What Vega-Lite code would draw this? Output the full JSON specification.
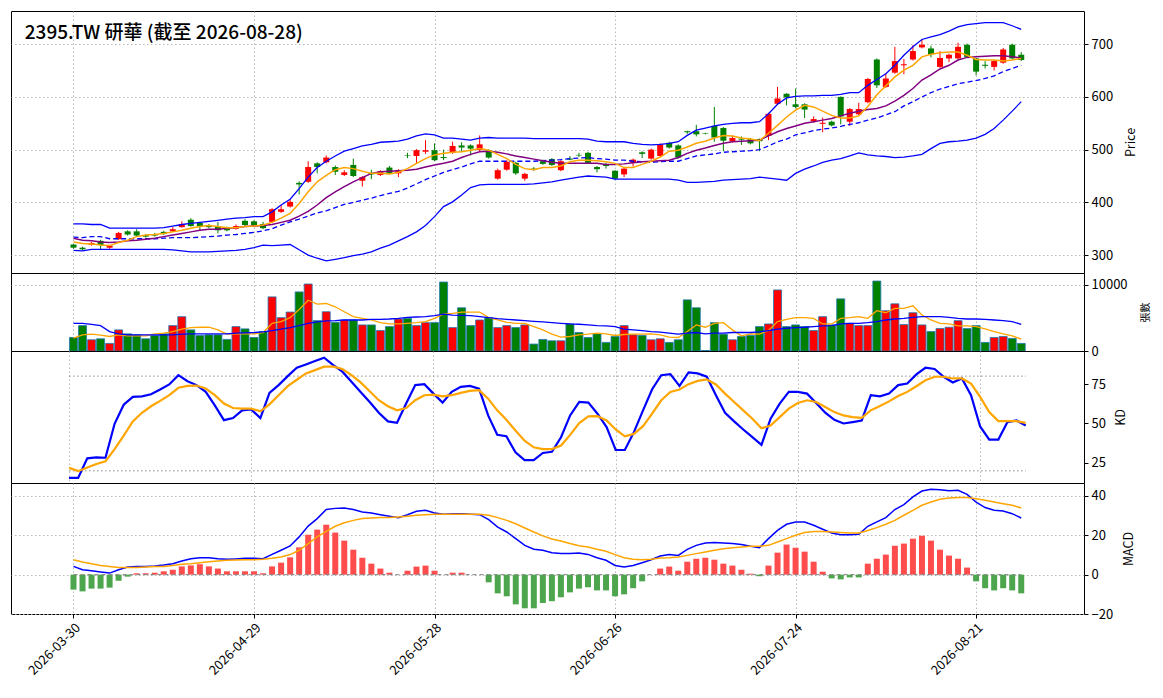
{
"$schema": "https://vega.github.io/schema/vega-lite/v6.json",
"padding": {"left": 10, "top": 10, "right": 5, "bottom": 5},
"bounds": "flush",
"config": {
 "font": "Noto Sans CJK TC",
 "view": {"stroke": "black", "strokeWidth": 1},
 "axis": {"labelFontSize": 13, "titleFontSize": 12.5, "titleFontWeight": "normal", "labelColor": "black", "titleColor": "black", "tickColor": "black", "tickSize": 4, "domain": false, "gridColor": "#b0b0b0", "gridDash": [1.5, 2.5], "gridWidth": 0.9, "labelPadding": 3}
},
"spacing": 0,
"data": {"values": [
{"i":0,"o":320,"h":321,"l":312,"c":314,"m5":325,"m10":332,"m20":334,"bu":359,"bl":309,"v":2050,"v5":1950,"v20":4200,"k":15.5,"d":21.9,"dif":4.2,"dea":7.6,"hm":-7.6},
{"i":1,"o":314,"h":316,"l":309,"c":311,"m5":322,"m10":328,"m20":333,"bu":359,"bl":308,"v":3850,"v5":2450,"v20":4200,"k":15.5,"d":19.8,"dif":2.5,"dea":6.4,"hm":-8.5},
{"i":2,"o":320,"h":325,"l":318,"c":323,"m5":321,"m10":327,"m20":335,"bu":358,"bl":311,"v":1700,"v5":2550,"v20":4050,"k":27.9,"d":22.1,"dif":2,"dea":5.6,"hm":-7.1},
{"i":3,"o":327,"h":329,"l":310,"c":319,"m5":319,"m10":325,"m20":335,"bu":358,"bl":311,"v":1850,"v5":2400,"v20":3850,"k":28.5,"d":24.3,"dif":1.4,"dea":4.7,"hm":-7.1},
{"i":4,"o":314,"h":319,"l":312,"c":318,"m5":318,"m10":324,"m20":331,"bu":351,"bl":311,"v":1150,"v5":2200,"v20":2950,"k":28.3,"d":26,"dif":0.8,"dea":4.1,"hm":-6.6},
{"i":5,"o":330,"h":344,"l":329,"c":342,"m5":324,"m10":325,"m20":331,"bu":351,"bl":311,"v":3200,"v5":2450,"v20":2600,"k":49.8,"d":33.8,"dif":2.5,"dea":3.6,"hm":-3.1},
{"i":6,"o":345,"h":347,"l":337,"c":339,"m5":328,"m10":327,"m20":331,"bu":351,"bl":311,"v":2600,"v5":2300,"v20":2450,"k":61.9,"d":42.3,"dif":3.9,"dea":3.6,"hm":-1},
{"i":7,"o":345,"h":349,"l":335,"c":337,"m5":335,"m10":328,"m20":331,"bu":351,"bl":311,"v":2450,"v5":2300,"v20":2450,"k":66.8,"d":51.3,"dif":4.2,"dea":3.7,"hm":0.7},
{"i":8,"o":338,"h":340,"l":333,"c":335,"m5":338,"m10":330,"m20":331,"bu":351,"bl":311,"v":1850,"v5":2300,"v20":2450,"k":67.2,"d":56.8,"dif":4.2,"dea":3.9,"hm":0.7},
{"i":9,"o":340,"h":342,"l":335,"c":337,"m5":339,"m10":332,"m20":331,"bu":351,"bl":311,"v":2350,"v5":2600,"v20":2450,"k":68.5,"d":60.9,"dif":4.4,"dea":4.1,"hm":1},
{"i":10,"o":344,"h":346,"l":338,"c":340,"m5":341,"m10":335,"m20":332,"bu":352,"bl":311,"v":2600,"v5":2700,"v20":2450,"k":71.5,"d":64.3,"dif":4.9,"dea":4.2,"hm":1.7},
{"i":11,"o":345,"h":353,"l":344,"c":349,"m5":344,"m10":338,"m20":333,"bu":355,"bl":310,"v":3850,"v5":2950,"v20":2450,"k":74.7,"d":67.9,"dif":5.6,"dea":4.7,"hm":2.5},
{"i":12,"o":353,"h":364,"l":352,"c":359,"m5":347,"m10":341,"m20":333,"bu":358,"bl":308,"v":5200,"v5":3300,"v20":2550,"k":80.6,"d":72.6,"dif":6.9,"dea":5.3,"hm":4.2},
{"i":13,"o":367,"h":370,"l":354,"c":355,"m5":351,"m10":344,"m20":333,"bu":360,"bl":306,"v":3200,"v5":3550,"v20":2600,"k":76.8,"d":73.8,"dif":8.1,"dea":5.6,"hm":4.7},
{"i":14,"o":361,"h":363,"l":347,"c":355,"m5":354,"m10":347,"m20":334,"bu":362,"bl":306,"v":2350,"v5":3600,"v20":2600,"k":74.3,"d":74,"dif":8.6,"dea":6.1,"hm":5.3},
{"i":15,"o":357,"h":359,"l":351,"c":353,"m5":356,"m10":349,"m20":335,"bu":364,"bl":306,"v":2450,"v5":3600,"v20":2600,"k":70,"d":72.1,"dif":8.6,"dea":6.6,"hm":4.2},
{"i":16,"o":354,"h":363,"l":341,"c":347,"m5":354,"m10":349,"m20":336,"bu":366,"bl":307,"v":2450,"v5":3200,"v20":2600,"k":61.5,"d":67.9,"dif":8.1,"dea":6.9,"hm":3.1},
{"i":17,"o":352,"h":354,"l":345,"c":347,"m5":352,"m10":351,"m20":338,"bu":368,"bl":308,"v":1750,"v5":2550,"v20":2600,"k":52.1,"d":62.6,"dif":7.8,"dea":7.3,"hm":1.7},
{"i":18,"o":350,"h":358,"l":348,"c":355,"m5":352,"m10":352,"m20":339,"bu":370,"bl":309,"v":3700,"v5":2600,"v20":2700,"k":53.4,"d":59.8,"dif":8,"dea":7.5,"hm":1.7},
{"i":19,"o":365,"h":368,"l":355,"c":357,"m5":354,"m10":354,"m20":341,"bu":371,"bl":311,"v":3350,"v5":2600,"v20":2750,"k":58.3,"d":59.4,"dif":8.3,"dea":7.6,"hm":1.7},
{"i":20,"o":364,"h":366,"l":355,"c":357,"m5":355,"m10":355,"m20":343,"bu":373,"bl":314,"v":2050,"v5":2600,"v20":2800,"k":58.9,"d":59.4,"dif":8.3,"dea":7.6,"hm":1.7},
{"i":21,"o":359,"h":363,"l":349,"c":351,"m5":357,"m10":356,"m20":346,"bu":373,"bl":319,"v":2950,"v5":2800,"v20":2900,"k":53.4,"d":57.7,"dif":8.1,"dea":7.8,"hm":0.7},
{"i":22,"o":363,"h":389,"l":361,"c":387,"m5":362,"m10":358,"m20":350,"bu":382,"bl":318,"v":8200,"v5":4200,"v20":3100,"k":69.4,"d":62.1,"dif":10.3,"dea":8.3,"hm":4.2},
{"i":23,"o":382,"h":395,"l":380,"c":387,"m5":370,"m10":362,"m20":357,"bu":395,"bl":319,"v":5050,"v5":4450,"v20":3300,"k":74.3,"d":67.9,"dif":12.4,"dea":9,"hm":6.1},
{"i":24,"o":392,"h":406,"l":390,"c":401,"m5":379,"m10":366,"m20":363,"bu":406,"bl":320,"v":5900,"v5":5050,"v20":3550,"k":80,"d":73.6,"dif":14.6,"dea":10.2,"hm":8.8},
{"i":25,"o":437,"h":440,"l":415,"c":434,"m5":398,"m10":374,"m20":368,"bu":426,"bl":310,"v":8950,"v5":6300,"v20":3850,"k":85.3,"d":77.7,"dif":19.2,"dea":12.4,"hm":13.9},
{"i":26,"o":439,"h":478,"l":437,"c":467,"m5":420,"m10":383,"m20":374,"bu":448,"bl":300,"v":10150,"v5":7700,"v20":4200,"k":87.4,"d":81.7,"dif":24.7,"dea":15.8,"hm":20.3},
{"i":27,"o":474,"h":476,"l":455,"c":467,"m5":439,"m10":395,"m20":380,"bu":466,"bl":294,"v":4600,"v5":7100,"v20":4400,"k":89.6,"d":83.8,"dif":28.5,"dea":19.2,"hm":22.9},
{"i":28,"o":476,"h":489,"l":474,"c":485,"m5":451,"m10":409,"m20":384,"bu":478,"bl":289,"v":5950,"v5":7200,"v20":4550,"k":91.7,"d":86,"dif":33.1,"dea":22,"hm":25.4},
{"i":29,"o":467,"h":470,"l":452,"c":458,"m5":462,"m10":420,"m20":390,"bu":488,"bl":292,"v":4350,"v5":6700,"v20":4600,"k":87,"d":86,"dif":33.7,"dea":24.6,"hm":21.4},
{"i":30,"o":452,"h":461,"l":450,"c":457,"m5":466,"m10":430,"m20":396,"bu":497,"bl":295,"v":4700,"v5":5950,"v20":4700,"k":82.8,"d":84.5,"dif":33.9,"dea":26.4,"hm":17.3},
{"i":31,"o":471,"h":483,"l":448,"c":450,"m5":464,"m10":439,"m20":400,"bu":502,"bl":299,"v":4700,"v5":5200,"v20":4700,"k":76.4,"d":80.6,"dif":33.1,"dea":27.6,"hm":12.7},
{"i":32,"o":441,"h":450,"l":430,"c":448,"m5":459,"m10":447,"m20":404,"bu":507,"bl":302,"v":3950,"v5":4950,"v20":4700,"k":70,"d":76,"dif":31.9,"dea":28.5,"hm":8.6},
{"i":33,"o":455,"h":462,"l":444,"c":453,"m5":455,"m10":455,"m20":408,"bu":510,"bl":306,"v":3950,"v5":4700,"v20":4800,"k":63.6,"d":70.4,"dif":31.4,"dea":28.8,"hm":5.6},
{"i":34,"o":452,"h":461,"l":450,"c":459,"m5":455,"m10":458,"m20":413,"bu":514,"bl":313,"v":3100,"v5":4300,"v20":4800,"k":56.8,"d":64.7,"dif":30.5,"dea":29,"hm":3.1},
{"i":35,"o":466,"h":469,"l":453,"c":455,"m5":454,"m10":459,"m20":417,"bu":515,"bl":319,"v":3700,"v5":4100,"v20":4850,"k":51.3,"d":60.9,"dif":29.7,"dea":29,"hm":1},
{"i":36,"o":455,"h":463,"l":448,"c":461,"m5":457,"m10":460,"m20":421,"bu":516,"bl":327,"v":4850,"v5":4100,"v20":4950,"k":50.4,"d":58.3,"dif":29,"dea":29.3,"hm":0},
{"i":37,"o":489,"h":494,"l":484,"c":488,"m5":464,"m10":461,"m20":427,"bu":520,"bl":335,"v":4950,"v5":4200,"v20":5100,"k":62.6,"d":59.8,"dif":30.5,"dea":29.7,"hm":2},
{"i":38,"o":488,"h":501,"l":474,"c":499,"m5":474,"m10":463,"m20":435,"bu":526,"bl":344,"v":3850,"v5":4300,"v20":5150,"k":74.3,"d":64.7,"dif":32.2,"dea":30.2,"hm":4.1},
{"i":39,"o":496,"h":518,"l":492,"c":499,"m5":483,"m10":467,"m20":443,"bu":530,"bl":356,"v":4300,"v5":4450,"v20":5200,"k":74.9,"d":67.9,"dif":32.7,"dea":30.5,"hm":4.6},
{"i":40,"o":499,"h":512,"l":478,"c":480,"m5":490,"m10":471,"m20":450,"bu":528,"bl":373,"v":4300,"v5":4950,"v20":5350,"k":68.9,"d":68.3,"dif":31.4,"dea":30.7,"hm":2},
{"i":41,"o":486,"h":500,"l":480,"c":484,"m5":493,"m10":474,"m20":457,"bu":522,"bl":392,"v":10450,"v5":5600,"v20":5600,"k":63.2,"d":67.2,"dif":30.7,"dea":30.7,"hm":0},
{"i":42,"o":494,"h":515,"l":492,"c":507,"m5":495,"m10":478,"m20":462,"bu":522,"bl":401,"v":3550,"v5":5700,"v20":5450,"k":70,"d":67.9,"dif":31,"dea":30.7,"hm":1},
{"i":43,"o":508,"h":514,"l":496,"c":504,"m5":496,"m10":485,"m20":467,"bu":520,"bl":414,"v":6550,"v5":5900,"v20":5400,"k":73.2,"d":69.4,"dif":31,"dea":30.7,"hm":1},
{"i":44,"o":508,"h":510,"l":489,"c":502,"m5":499,"m10":491,"m20":473,"bu":518,"bl":428,"v":3850,"v5":5900,"v20":5350,"k":73.8,"d":70.6,"dif":30.7,"dea":30.7,"hm":0},
{"i":45,"o":499,"h":527,"l":497,"c":510,"m5":502,"m10":496,"m20":478,"bu":522,"bl":433,"v":4700,"v5":5900,"v20":5200,"k":72.1,"d":71.1,"dif":30.5,"dea":30.7,"hm":0},
{"i":46,"o":499,"h":501,"l":483,"c":485,"m5":499,"m10":497,"m20":478,"bu":523,"bl":434,"v":5050,"v5":5050,"v20":5050,"k":55.1,"d":65.7,"dif":28,"dea":30.2,"hm":-3.9},
{"i":47,"o":445,"h":464,"l":443,"c":461,"m5":491,"m10":495,"m20":478,"bu":522,"bl":434,"v":3550,"v5":4700,"v20":4900,"k":42.8,"d":58.3,"dif":24.2,"dea":29,"hm":-9.5},
{"i":48,"o":462,"h":480,"l":460,"c":477,"m5":483,"m10":492,"m20":478,"bu":522,"bl":434,"v":3850,"v5":4350,"v20":4800,"k":41.9,"d":52.3,"dif":21.7,"dea":27.6,"hm":-11},
{"i":49,"o":475,"h":477,"l":452,"c":455,"m5":472,"m10":488,"m20":478,"bu":522,"bl":434,"v":3550,"v5":4200,"v20":4700,"k":31.7,"d":45.5,"dif":18.3,"dea":25.9,"hm":-15.1},
{"i":50,"o":445,"h":456,"l":441,"c":454,"m5":464,"m10":485,"m20":478,"bu":522,"bl":434,"v":3950,"v5":4200,"v20":4600,"k":26.8,"d":39.1,"dif":14.9,"dea":23.7,"hm":-17.1},
{"i":51,"o":464,"h":467,"l":460,"c":462,"m5":462,"m10":482,"m20":478,"bu":521,"bl":435,"v":1050,"v5":3700,"v20":4500,"k":26.8,"d":34.9,"dif":12.9,"dea":21.7,"hm":-17.1},
{"i":52,"o":478,"h":481,"l":471,"c":473,"m5":466,"m10":479,"m20":479,"bu":521,"bl":437,"v":1750,"v5":3200,"v20":4400,"k":31.3,"d":33.8,"dif":12.4,"dea":19.7,"hm":-14.4},
{"i":53,"o":482,"h":484,"l":469,"c":471,"m5":466,"m10":476,"m20":480,"bu":521,"bl":439,"v":1550,"v5":2550,"v20":4300,"k":32.1,"d":33.8,"dif":11.1,"dea":18.1,"hm":-13.5},
{"i":54,"o":461,"h":480,"l":459,"c":478,"m5":469,"m10":474,"m20":481,"bu":521,"bl":442,"v":1550,"v5":2100,"v20":4200,"k":41.3,"d":36,"dif":10.7,"dea":17.1,"hm":-11.5},
{"i":55,"o":483,"h":488,"l":480,"c":481,"m5":477,"m10":474,"m20":483,"bu":521,"bl":445,"v":4100,"v5":2200,"v20":4100,"k":55.1,"d":42.8,"dif":10.7,"dea":15.8,"hm":-9},
{"i":56,"o":490,"h":494,"l":486,"c":489,"m5":480,"m10":474,"m20":484,"bu":521,"bl":448,"v":2800,"v5":2450,"v20":4050,"k":63.6,"d":50.2,"dif":11,"dea":14.7,"hm":-7.1},
{"i":57,"o":494,"h":496,"l":473,"c":475,"m5":480,"m10":474,"m20":485,"bu":520,"bl":450,"v":2050,"v5":2550,"v20":3950,"k":63.2,"d":54.5,"dif":10.3,"dea":14.1,"hm":-6.4},
{"i":58,"o":467,"h":469,"l":457,"c":463,"m5":479,"m10":474,"m20":483,"bu":516,"bl":449,"v":2600,"v5":2700,"v20":3850,"k":56.2,"d":54.7,"dif":8.6,"dea":12.9,"hm":-8},
{"i":59,"o":471,"h":475,"l":464,"c":469,"m5":477,"m10":472,"m20":482,"bu":515,"bl":448,"v":1300,"v5":2600,"v20":3800,"k":47.7,"d":51.9,"dif":7.3,"dea":11.9,"hm":-8},
{"i":60,"o":460,"h":461,"l":443,"c":445,"m5":474,"m10":472,"m20":480,"bu":515,"bl":444,"v":2200,"v5":2350,"v20":3700,"k":33.2,"d":46.2,"dif":4.7,"dea":10.2,"hm":-11},
{"i":61,"o":453,"h":466,"l":448,"c":464,"m5":466,"m10":473,"m20":480,"bu":515,"bl":444,"v":3850,"v5":2500,"v20":3300,"k":33.2,"d":41.9,"dif":3.9,"dea":8.6,"hm":-10},
{"i":62,"o":475,"h":483,"l":468,"c":481,"m5":466,"m10":475,"m20":478,"bu":512,"bl":444,"v":2450,"v5":2550,"v20":3200,"k":44.5,"d":43.4,"dif":4.7,"dea":7.8,"hm":-6.9},
{"i":63,"o":495,"h":497,"l":484,"c":492,"m5":472,"m10":477,"m20":477,"bu":510,"bl":444,"v":2350,"v5":2550,"v20":3100,"k":58.3,"d":48.3,"dif":6.1,"dea":7.6,"hm":-3.4},
{"i":64,"o":483,"h":502,"l":481,"c":500,"m5":478,"m10":478,"m20":476,"bu":509,"bl":444,"v":1700,"v5":2600,"v20":2950,"k":71.7,"d":56.2,"dif":7.6,"dea":7.8,"hm":0},
{"i":65,"o":488,"h":512,"l":486,"c":510,"m5":486,"m10":479,"m20":477,"bu":510,"bl":444,"v":1850,"v5":2450,"v20":2850,"k":80.6,"d":64.7,"dif":9.5,"dea":8.5,"hm":3.1},
{"i":66,"o":513,"h":515,"l":502,"c":504,"m5":497,"m10":480,"m20":478,"bu":512,"bl":444,"v":1300,"v5":2100,"v20":2700,"k":81.3,"d":70,"dif":10.3,"dea":8.6,"hm":4.1},
{"i":67,"o":508,"h":510,"l":483,"c":485,"m5":499,"m10":485,"m20":478,"bu":515,"bl":442,"v":1700,"v5":2050,"v20":2550,"k":73.8,"d":71.5,"dif":9.8,"dea":9,"hm":2},
{"i":68,"o":535,"h":536,"l":530,"c":533,"m5":505,"m10":493,"m20":483,"bu":527,"bl":438,"v":7750,"v5":2950,"v20":2700,"k":82.3,"d":74.9,"dif":12.9,"dea":9.8,"hm":6.6},
{"i":69,"o":535,"h":547,"l":525,"c":529,"m5":512,"m10":499,"m20":488,"bu":537,"bl":438,"v":6550,"v5":3950,"v20":2800,"k":81.7,"d":77,"dif":14.9,"dea":10.7,"hm":8.1},
{"i":70,"o":531,"h":532,"l":529,"c":530,"m5":516,"m10":503,"m20":490,"bu":541,"bl":439,"v":80,"v5":3600,"v20":2600,"k":79.6,"d":77.9,"dif":16.1,"dea":11.5,"hm":8.6},
{"i":71,"o":545,"h":581,"l":515,"c":523,"m5":522,"m10":508,"m20":492,"bu":545,"bl":440,"v":4300,"v5":4200,"v20":2700,"k":67.9,"d":74.7,"dif":16.3,"dea":12.4,"hm":7.6},
{"i":72,"o":541,"h":543,"l":497,"c":517,"m5":527,"m10":512,"m20":495,"bu":548,"bl":442,"v":2550,"v5":4300,"v20":2700,"k":56.8,"d":68.9,"dif":16.1,"dea":13.2,"hm":5.6},
{"i":73,"o":516,"h":527,"l":514,"c":522,"m5":526,"m10":515,"m20":496,"bu":550,"bl":443,"v":1700,"v5":3200,"v20":2800,"k":51.3,"d":63.6,"dif":15.8,"dea":13.7,"hm":4.6},
{"i":74,"o":521,"h":525,"l":509,"c":519,"m5":522,"m10":516,"m20":497,"bu":551,"bl":444,"v":2200,"v5":2300,"v20":2800,"k":46.2,"d":58.3,"dif":15.3,"dea":14.1,"hm":2.5},
{"i":75,"o":520,"h":522,"l":510,"c":512,"m5":520,"m10":517,"m20":498,"bu":551,"bl":445,"v":2350,"v5":2600,"v20":2800,"k":41.3,"d":53,"dif":14.4,"dea":14.4,"hm":0.5},
{"i":76,"o":520,"h":521,"l":497,"c":516,"m5":517,"m10":518,"m20":500,"bu":553,"bl":448,"v":3700,"v5":2550,"v20":2900,"k":36.4,"d":47,"dif":13.7,"dea":14.4,"hm":-0.8},
{"i":77,"o":526,"h":570,"l":518,"c":568,"m5":531,"m10":526,"m20":507,"bu":568,"bl":446,"v":4100,"v5":3100,"v20":3100,"k":53,"d":48.7,"dif":18.3,"dea":14.9,"hm":4.6},
{"i":78,"o":587,"h":619,"l":585,"c":597,"m5":546,"m10":534,"m20":515,"bu":586,"bl":444,"v":9250,"v5":4450,"v20":3300,"k":62.6,"d":54,"dif":22.5,"dea":16.6,"hm":11.2},
{"i":79,"o":606,"h":607,"l":584,"c":599,"m5":562,"m10":540,"m20":520,"bu":598,"bl":442,"v":3700,"v5":4800,"v20":3450,"k":70,"d":59.4,"dif":25.6,"dea":18.3,"hm":15.3},
{"i":80,"o":586,"h":616,"l":578,"c":581,"m5":575,"m10":545,"m20":528,"bu":601,"bl":455,"v":3950,"v5":5050,"v20":3550,"k":70,"d":63,"dif":26.8,"dea":20,"hm":13.7},
{"i":81,"o":586,"h":588,"l":560,"c":576,"m5":584,"m10":550,"m20":532,"bu":602,"bl":463,"v":3700,"v5":5050,"v20":3600,"k":68.9,"d":64.7,"dif":26.8,"dea":21.4,"hm":11.7},
{"i":82,"o":554,"h":563,"l":551,"c":558,"m5":581,"m10":553,"m20":536,"bu":602,"bl":469,"v":3100,"v5":4950,"v20":3700,"k":63,"d":63.6,"dif":25.1,"dea":22,"hm":6.6},
{"i":83,"o":549,"h":561,"l":533,"c":551,"m5":573,"m10":556,"m20":539,"bu":603,"bl":476,"v":5200,"v5":4100,"v20":3800,"k":56.8,"d":60.4,"dif":23.1,"dea":22,"hm":1.5},
{"i":84,"o":553,"h":555,"l":544,"c":546,"m5":565,"m10":559,"m20":541,"bu":603,"bl":480,"v":3950,"v5":4100,"v20":3850,"k":52.3,"d":57.2,"dif":21.2,"dea":21.7,"hm":-1.9},
{"i":85,"o":600,"h":601,"l":548,"c":563,"m5":560,"m10":564,"m20":544,"bu":605,"bl":483,"v":7900,"v5":4950,"v20":4100,"k":50,"d":55.1,"dif":20.3,"dea":21.4,"hm":-2.4},
{"i":86,"o":553,"h":579,"l":545,"c":577,"m5":560,"m10":569,"m20":548,"bu":608,"bl":488,"v":4200,"v5":5050,"v20":4200,"k":50.9,"d":54,"dif":20.3,"dea":21.2,"hm":-1.4},
{"i":87,"o":567,"h":589,"l":565,"c":577,"m5":564,"m10":573,"m20":551,"bu":608,"bl":494,"v":3850,"v5":5200,"v20":4200,"k":51.9,"d":53.6,"dif":20.5,"dea":21.2,"hm":-1.4},
{"i":88,"o":590,"h":636,"l":588,"c":634,"m5":582,"m10":576,"m20":556,"bu":622,"bl":490,"v":3850,"v5":4950,"v20":4300,"k":67.9,"d":58.3,"dif":24.6,"dea":22.5,"hm":5.6},
{"i":89,"o":671,"h":673,"l":617,"c":622,"m5":604,"m10":578,"m20":560,"bu":633,"bl":488,"v":10600,"v5":6100,"v20":4450,"k":67.2,"d":61.1,"dif":26.8,"dea":23.9,"hm":8.1},
{"i":90,"o":619,"h":645,"l":617,"c":635,"m5":621,"m10":583,"m20":566,"bu":644,"bl":487,"v":6100,"v5":5800,"v20":4700,"k":68.9,"d":64,"dif":29,"dea":25.6,"hm":10.2},
{"i":91,"o":646,"h":695,"l":644,"c":668,"m5":638,"m10":592,"m20":572,"bu":660,"bl":485,"v":7150,"v5":6450,"v20":4850,"k":74.3,"d":67.4,"dif":33.1,"dea":27.6,"hm":14.7},
{"i":92,"o":660,"h":672,"l":643,"c":662,"m5":651,"m10":603,"m20":583,"bu":679,"bl":486,"v":4000,"v5":6450,"v20":4950,"k":75.3,"d":70,"dif":35.6,"dea":30.2,"hm":15.8},
{"i":93,"o":671,"h":698,"l":669,"c":687,"m5":660,"m10":616,"m20":591,"bu":695,"bl":488,"v":5800,"v5":6850,"v20":5100,"k":81.1,"d":73.6,"dif":39.5,"dea":32.7,"hm":18.3},
{"i":94,"o":694,"h":709,"l":692,"c":699,"m5":676,"m10":632,"m20":600,"bu":709,"bl":491,"v":3950,"v5":5450,"v20":5200,"k":85.3,"d":77.4,"dif":42.5,"dea":35.3,"hm":19.8},
{"i":95,"o":692,"h":697,"l":675,"c":681,"m5":681,"m10":642,"m20":608,"bu":714,"bl":502,"v":2950,"v5":4700,"v20":5200,"k":84.5,"d":79.6,"dif":43.4,"dea":36.9,"hm":17.3},
{"i":96,"o":657,"h":687,"l":655,"c":674,"m5":684,"m10":653,"m20":615,"bu":718,"bl":512,"v":3400,"v5":4200,"v20":5200,"k":79.6,"d":79.6,"dif":43.2,"dea":38.3,"hm":12.7},
{"i":97,"o":673,"h":682,"l":666,"c":680,"m5":685,"m10":660,"m20":620,"bu":725,"bl":515,"v":3600,"v5":4100,"v20":5100,"k":76,"d":78.5,"dif":42.7,"dea":39,"hm":9.7},
{"i":98,"o":673,"h":703,"l":671,"c":695,"m5":685,"m10":670,"m20":625,"bu":733,"bl":516,"v":4600,"v5":3800,"v20":4950,"k":78.5,"d":78.5,"dif":42.9,"dea":39.2,"hm":8.1},
{"i":99,"o":699,"h":701,"l":674,"c":676,"m5":679,"m10":675,"m20":628,"bu":737,"bl":518,"v":3400,"v5":3800,"v20":4850,"k":67.9,"d":75.3,"dif":40.8,"dea":39.2,"hm":3.6},
{"i":100,"o":673,"h":674,"l":641,"c":648,"m5":671,"m10":676,"m20":631,"bu":739,"bl":522,"v":3850,"v5":3700,"v20":4850,"k":48.1,"d":66.8,"dif":36.9,"dea":38.6,"hm":-3.4},
{"i":101,"o":661,"h":668,"l":654,"c":659,"m5":670,"m10":677,"m20":635,"bu":741,"bl":529,"v":1300,"v5":3350,"v20":4800,"k":39.8,"d":57.2,"dif":34.1,"dea":37.8,"hm":-6.9},
{"i":102,"o":657,"h":670,"l":650,"c":668,"m5":670,"m10":678,"m20":640,"bu":741,"bl":540,"v":2050,"v5":2950,"v20":4700,"k":39.8,"d":51.5,"dif":32.7,"dea":36.9,"hm":-8},
{"i":103,"o":665,"h":693,"l":663,"c":690,"m5":668,"m10":678,"m20":648,"bu":741,"bl":556,"v":2200,"v5":2600,"v20":4600,"k":50.9,"d":51.5,"dif":32.4,"dea":36.1,"hm":-6.9},
{"i":104,"o":699,"h":701,"l":671,"c":673,"m5":670,"m10":676,"m20":654,"bu":735,"bl":573,"v":1900,"v5":2300,"v20":4450,"k":51.9,"d":51.5,"dif":31,"dea":35.3,"hm":-8},
{"i":105,"o":680,"h":685,"l":668,"c":670,"m5":673,"m10":674,"m20":660,"bu":728,"bl":591,"v":1150,"v5":1800,"v20":4050,"k":48.7,"d":50.4,"dif":28.8,"dea":33.9,"hm":-9.5}
]},
"vconcat": [
{
 "width": 1073, "height": 262,
 "encoding": {"x": {"field": "i", "type": "quantitative", "scale": {"domain": [-6.37, 111.4], "nice": false, "zero": false}, "axis": {"values": [0, 20, 40, 60, 80, 100], "labels": false, "ticks": false, "domain": false, "title": null, "grid": true}}},
 "layer": [
  {"mark": {"type": "rule", "strokeWidth": 1}, "encoding": {"y": {"field": "l", "type": "quantitative", "scale": {"domain": [266, 763], "nice": false, "zero": false}, "axis": {"orient": "right", "values": [300, 400, 500, 600, 700], "title": "Price", "titleAngle": -90, "titleBaseline": "top", "titlePadding": 12}}, "y2": {"field": "h"}, "color": {"condition": {"test": "datum.c >= datum.o", "value": "#ff0000"}, "value": "#008000"}}},
  {"mark": {"type": "bar", "width": 6}, "encoding": {"y": {"field": "o", "type": "quantitative"}, "y2": {"field": "c"}, "color": {"condition": {"test": "datum.c >= datum.o", "value": "#ff0000"}, "value": "#008000"}}},
  {"mark": {"type": "line", "color": "#0000ff", "strokeWidth": 1.3}, "encoding": {"y": {"field": "bu", "type": "quantitative"}}},
  {"mark": {"type": "line", "color": "#0000ff", "strokeWidth": 1.3}, "encoding": {"y": {"field": "bl", "type": "quantitative"}}},
  {"mark": {"type": "line", "color": "#0000ff", "strokeWidth": 1.3, "strokeDash": [5, 3]}, "encoding": {"y": {"field": "m20", "type": "quantitative"}}},
  {"mark": {"type": "line", "color": "#800080", "strokeWidth": 1.5}, "encoding": {"y": {"field": "m10", "type": "quantitative"}}},
  {"mark": {"type": "line", "color": "#ffa500", "strokeWidth": 1.5}, "encoding": {"y": {"field": "m5", "type": "quantitative"}}},
  {"transform": [{"filter": "datum.i == 0"}], "mark": {"type": "text", "align": "left", "baseline": "middle", "fontSize": 19, "fontWeight": 500, "color": "black"}, "encoding": {"text": {"value": "2395.TW 研華 (截至 2026-08-28)"}, "x": {"datum": -5.4, "type": "quantitative"}, "y": {"datum": 721, "type": "quantitative"}}}
 ]
},
{
 "width": 1073, "height": 78,
 "encoding": {"x": {"field": "i", "type": "quantitative", "scale": {"domain": [-6.37, 111.4], "nice": false, "zero": false}, "axis": {"values": [0, 20, 40, 60, 80, 100], "labels": false, "ticks": false, "domain": false, "title": null, "grid": true}}},
 "layer": [
  {"mark": {"type": "bar", "width": 8, "stroke": "#1f77b4", "strokeWidth": 0.8}, "encoding": {"y": {"field": "v", "type": "quantitative", "scale": {"domain": [0, 11818], "nice": false}, "axis": {"orient": "right", "values": [0, 10000], "format": "d", "title": "張數", "titleFontSize": 10, "titleAngle": -90, "titleBaseline": "top", "titlePadding": 13}}, "fill": {"condition": {"test": "datum.c >= datum.o", "value": "#ff0000"}, "value": "#008000"}}},
  {"mark": {"type": "line", "color": "#ffa500", "strokeWidth": 1.3}, "encoding": {"y": {"field": "v5", "type": "quantitative"}}},
  {"mark": {"type": "line", "color": "#0000ff", "strokeWidth": 1.3}, "encoding": {"y": {"field": "v20", "type": "quantitative"}}}
 ]
},
{
 "width": 1073, "height": 132,
 "encoding": {"x": {"field": "i", "type": "quantitative", "scale": {"domain": [-6.37, 111.4], "nice": false, "zero": false}, "axis": {"values": [0, 20, 40, 60, 80, 100], "labels": false, "ticks": false, "domain": false, "title": null, "grid": true}}},
 "layer": [
  {"mark": {"type": "line", "color": "#888888", "strokeWidth": 1, "strokeDash": [1.5, 2.5]}, "encoding": {"y": {"datum": 80, "type": "quantitative", "scale": {"domain": [12.3, 95.9], "nice": false, "zero": false}, "axis": {"orient": "right", "values": [25, 50, 75], "title": "KD", "titleAngle": -90, "titleBaseline": "top", "titlePadding": 9}}}},
  {"mark": {"type": "line", "color": "#888888", "strokeWidth": 1, "strokeDash": [1.5, 2.5]}, "encoding": {"y": {"datum": 20, "type": "quantitative"}}},
  {"mark": {"type": "line", "color": "#0000ff", "strokeWidth": 2.2}, "encoding": {"y": {"field": "k", "type": "quantitative"}}},
  {"mark": {"type": "line", "color": "#ffa500", "strokeWidth": 2.2}, "encoding": {"y": {"field": "d", "type": "quantitative"}}}
 ]
},
{
 "width": 1073, "height": 131,
 "encoding": {"x": {"field": "i", "type": "quantitative", "scale": {"domain": [-6.37, 111.4], "nice": false, "zero": false}, "axis": {"values": [0, 20, 40, 60, 80, 100], "labelExpr": "['2026-03-30','2026-04-29','2026-05-28','2026-06-26','2026-07-24','2026-08-21'][datum.value / 20]", "labelAngle": -45, "labelAlign": "right", "labelBaseline": "top", "labelFontSize": 13, "title": null, "grid": true, "tickSize": 4, "domain": false}}},
 "layer": [
  {"mark": {"type": "bar", "width": 6}, "encoding": {"y": {"field": "hm", "type": "quantitative", "scale": {"domain": [-20, 46.6], "nice": false, "zero": false}, "axis": {"orient": "right", "values": [-20, 0, 20, 40], "title": "MACD", "titleAngle": -90, "titleBaseline": "top", "titlePadding": 10}}, "fill": {"condition": {"test": "datum.hm >= 0", "value": "#ff4d4d"}, "value": "#4da64d"}}},
  {"mark": {"type": "line", "color": "#808080", "strokeWidth": 1, "strokeDash": [4, 3]}, "encoding": {"y": {"datum": 0, "type": "quantitative"}}},
  {"mark": {"type": "line", "color": "#0000ff", "strokeWidth": 1.5}, "encoding": {"y": {"field": "dif", "type": "quantitative"}}},
  {"mark": {"type": "line", "color": "#ffa500", "strokeWidth": 1.5}, "encoding": {"y": {"field": "dea", "type": "quantitative"}}}
 ]
}
]
}
